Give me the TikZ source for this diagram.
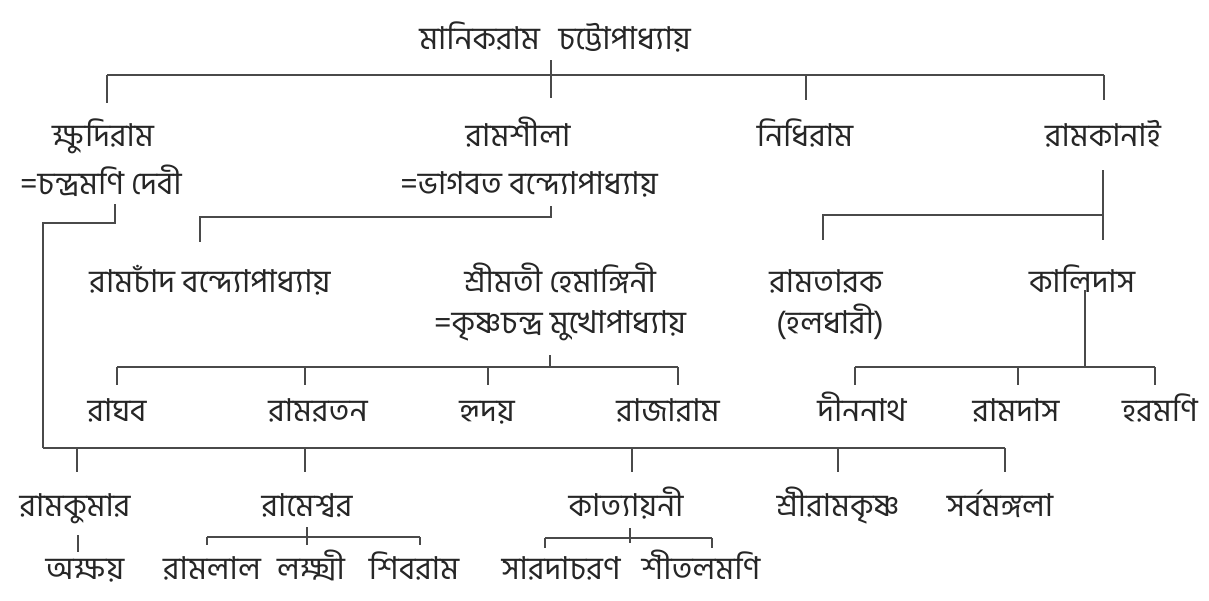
\documentclass[tikz,border=0pt]{standalone}
\usepackage{fontspec}
\newfontfamily\bn[Script=Bengali]{Hind Siliguri}
\definecolor{txt}{HTML}{262626}
\definecolor{lin}{HTML}{4A4A4A}
\begin{document}
\begin{tikzpicture}[x=1pt,y=-1pt,
  nm/.style={font=\bn\fontsize{31.5}{36}\selectfont, text=txt, inner sep=0pt, anchor=base},
  ln/.style={draw=lin, line width=1.6pt, line cap=butt, line join=miter}]
\fill[white] (0,0) rectangle (1209,600);
\useasboundingbox (0,0) rectangle (1209,600);

% ---------- names ----------
\node[nm] (root) at (555,49) {মানিকরাম\hspace{0.6em}চট্টোপাধ্যায়};

\node[nm] (kshu)  at (103,146) {ক্ষুদিরাম};
\node[nm] (kshuw) at (101,194) {=চন্দ্রমণি দেবী};
\node[nm] (rshi)  at (518,146) {রামশীলা};
\node[nm] (rshih) at (529,194) {=ভাগবত বন্দ্যোপাধ্যায়};
\node[nm] (nidhi) at (805,146) {নিধিরাম};
\node[nm] (rkan)  at (1103,146) {রামকানাই};

\node[nm] (rchand) at (210,292) {রামচাঁদ বন্দ্যোপাধ্যায়};
\node[nm] (hema)   at (560,292) {শ্রীমতী হেমাঙ্গিনী};
\node[nm] (hemah)  at (560,333) {=কৃষ্ণচন্দ্র মুখোপাধ্যায়};
\node[nm] (rtar)   at (826,292) {রামতারক};
\node[nm] (hal)    at (830,333) {(হলধারী)};
\node[nm] (kali)   at (1082,292) {কালিদাস};

\node[nm] (ragh)  at (117,421) {রাঘব};
\node[nm] (rrat)  at (318,421) {রামরতন};
\node[nm] (hrid)  at (487,421) {হৃদয়};
\node[nm] (raja)  at (668,421) {রাজারাম};
\node[nm] (dina)  at (862,421) {দীননাথ};
\node[nm] (rdas)  at (1016,421) {রামদাস};
\node[nm] (hara)  at (1160,421) {হরমণি};

\node[nm] (rkum)  at (75,516) {রামকুমার};
\node[nm] (rmesh) at (307,516) {রামেশ্বর};
\node[nm] (katy)  at (626,516) {কাত্যায়নী};
\node[nm] (srk)   at (838,516) {শ্রীরামকৃষ্ণ};
\node[nm] (sarva) at (1000,516) {সর্বমঙ্গলা};

\node[nm] (akshay) at (85,579) {অক্ষয়};
\node[nm] (rlal)   at (212,579) {রামলাল};
\node[nm] (lakshmi) at (311,579) {লক্ষ্মী};
\node[nm] (shiv)   at (414,579) {শিবরাম};
\node[nm] (sarada) at (561,579) {সারদাচরণ};
\node[nm] (shital) at (701,579) {শীতলমণি};

% ---------- connector points ----------
% Manikram's children
\coordinate (r-s)  at (551,60);
\coordinate (tb-l) at (107,75);
\coordinate (tb-r) at (1104,75);
\coordinate (kshu-t) at (107,103);
\coordinate (rshi-t) at (551,98);
\coordinate (nidhi-t) at (806,100);
\coordinate (rkan-t) at (1104,100);
% Kshudiram's line down to the bottom bar
\coordinate (k1) at (115,204);
\coordinate (k2) at (115,223);
\coordinate (k3) at (43,223);
\coordinate (bb-l) at (43,448);
\coordinate (bb-r) at (1005,448);
\coordinate (rkum-t) at (77,472);
\coordinate (rmesh-t) at (305,472);
\coordinate (katy-t) at (632,472);
\coordinate (srk-t) at (838,472);
\coordinate (sarva-t) at (1005,472);
% Ramshila's children
\coordinate (rs1) at (551,206);
\coordinate (rs2) at (551,217);
\coordinate (rs3) at (200,217);
\coordinate (rchand-t) at (200,242);
% Ramkanai's children
\coordinate (rn1) at (1103,170);
\coordinate (rn2) at (1103,240);
\coordinate (rn3) at (823,215);
\coordinate (rtar-t) at (823,240);
% Hemangini's children
\coordinate (h1) at (550,355);
\coordinate (hb-l) at (117,367);
\coordinate (hb-r) at (678,367);
\coordinate (ragh-t) at (117,385);
\coordinate (rrat-t) at (305,385);
\coordinate (hrid-t) at (488,385);
\coordinate (raja-t) at (678,385);
% Kalidas's children
\coordinate (kd1) at (1085,290);
\coordinate (kb-l) at (855,367);
\coordinate (kb-r) at (1155,367);
\coordinate (dina-t) at (855,385);
\coordinate (rdas-t) at (1018,385);
\coordinate (hara-t) at (1155,385);
% Ramkumar -> Akshay
\coordinate (rk1) at (78,535);
\coordinate (rk2) at (78,552);
% Rameshwar's children
\coordinate (rm1) at (307,527);
\coordinate (rm2) at (307,545);
\coordinate (rmb-l) at (207,537);
\coordinate (rmb-r) at (420,537);
\coordinate (rlal-t) at (207,545);
\coordinate (shiv-t) at (420,545);
% Katyayani's children
\coordinate (ky1) at (630,528);
\coordinate (ky2) at (630,543);
\coordinate (kyb-l) at (545,538);
\coordinate (kyb-r) at (712,538);
\coordinate (sarada-t) at (545,548);
\coordinate (shital-t) at (712,548);

% ---------- connectors ----------
\draw[ln] (r-s) -- (rshi-t);
\draw[ln] (tb-l) -- (tb-r);
\draw[ln] (tb-l) -- (kshu-t);
\draw[ln] (nidhi-t |- tb-l) -- (nidhi-t);
\draw[ln] (tb-r) -- (rkan-t);

\draw[ln] (k1) -- (k2) -- (k3) -- (bb-l);
\draw[ln] (bb-l) -- (bb-r);
\draw[ln] (rkum-t |- bb-l) -- (rkum-t);
\draw[ln] (rmesh-t |- bb-l) -- (rmesh-t);
\draw[ln] (katy-t |- bb-l) -- (katy-t);
\draw[ln] (srk-t |- bb-l) -- (srk-t);
\draw[ln] (bb-r) -- (sarva-t);

\draw[ln] (rs1) -- (rs2) -- (rs3) -- (rchand-t);

\draw[ln] (rn1) -- (rn2);
\draw[ln] (rn3 -| rn1) -- (rn3) -- (rtar-t);

\draw[ln] (h1) -- (h1 |- hb-l);
\draw[ln] (hb-l) -- (hb-r);
\draw[ln] (hb-l) -- (ragh-t);
\draw[ln] (rrat-t |- hb-l) -- (rrat-t);
\draw[ln] (hrid-t |- hb-l) -- (hrid-t);
\draw[ln] (hb-r) -- (raja-t);

\draw[ln] (kd1) -- (kd1 |- kb-l);
\draw[ln] (kb-l) -- (kb-r);
\draw[ln] (kb-l) -- (dina-t);
\draw[ln] (rdas-t |- kb-l) -- (rdas-t);
\draw[ln] (kb-r) -- (hara-t);

\draw[ln] (rk1) -- (rk2);

\draw[ln] (rm1) -- (rm2);
\draw[ln] (rmb-l) -- (rmb-r);
\draw[ln] (rmb-l) -- (rlal-t);
\draw[ln] (rmb-r) -- (shiv-t);

\draw[ln] (ky1) -- (ky2);
\draw[ln] (kyb-l) -- (kyb-r);
\draw[ln] (kyb-l) -- (sarada-t);
\draw[ln] (kyb-r) -- (shital-t);
\end{tikzpicture}
\end{document}
